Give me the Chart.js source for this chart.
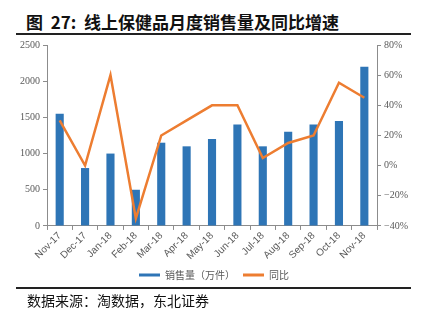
<!DOCTYPE html>
<html>
<head>
<meta charset="utf-8">
<script src="https://cdn.jsdelivr.net/npm/chart.js@4.4.1/dist/chart.umd.min.js"></script>
<style>
  html, body { margin: 0; padding: 0; background: #fff; }
  body { width: 423px; height: 323px; position: relative; overflow: hidden; }
  #title {
    position: absolute; left: 26px; top: 9px;
    font-family: "Noto Sans CJK SC", sans-serif; font-weight: bold;
    font-size: 17px; color: #111; white-space: nowrap;
  }
  .rule { position: absolute; left: 16px; width: 395px; height: 2px; background: #222; }
  #source {
    position: absolute; left: 27px; top: 290px;
    font-family: "Noto Sans CJK SC", sans-serif; font-size: 14px; color: #111;
  }
  #wrap { position: absolute; left: 0; top: 36px; width: 423px; height: 254px; }
</style>
</head>
<body>
<div id="title">图&nbsp; 27:&nbsp; 线上保健品月度销售量及同比增速</div>
<div class="rule" style="top:33px"></div>
<div id="wrap"><canvas id="c"></canvas></div>
<div class="rule" style="top:287px"></div>
<div id="source">数据来源：淘数据，东北证券</div>
<script>
// Monthly online sales of health supplements (10k units) and YoY growth (%)
const months = ["Nov-17", "Dec-17", "Jan-18", "Feb-18", "Mar-18", "Apr-18", "May-18",
                "Jun-18", "Jul-18", "Aug-18", "Sep-18", "Oct-18", "Nov-18"];
const salesVolume = [1550, 800, 1000, 500, 1150, 1100, 1200, 1400, 1100, 1300, 1400, 1450, 2200];
const yoyGrowth = [30, 0, 60, -35, 20, 30, 40, 40, 5, 15, 20, 55, 45];
const seriesNames = ["销售量（万件）", "同比"];

const BLUE = "#2E75B6";
const ORANGE = "#ED7D31";
const AXIS = "#8c8c8c";
const TICK_TXT = "#595959";

new Chart(document.getElementById("c"), {
  type: "bar",
  data: {
    labels: months,
    datasets: [
      {
        type: "line",
        label: seriesNames[1],
        data: yoyGrowth,
        yAxisID: "y1",
        borderColor: ORANGE,
        backgroundColor: ORANGE,
        borderWidth: 2.5,
        pointRadius: 0,
        tension: 0,
        order: 0
      },
      {
        type: "bar",
        label: seriesNames[0],
        data: salesVolume,
        yAxisID: "y",
        backgroundColor: BLUE,
        categoryPercentage: 0.8,
        barPercentage: 0.4,
        order: 1
      }
    ]
  },
  options: {
    responsive: true,
    maintainAspectRatio: false,
    animation: false,
    layout: { padding: { left: 17, right: 12, top: 8, bottom: 0 } },
    plugins: {
      tooltip: { enabled: false },
      legend: {
        position: "bottom",
        labels: {
          font: { family: "'Noto Sans CJK SC', sans-serif", size: 10 },
          color: TICK_TXT,
          boxWidth: 21,
          boxHeight: 3,
          padding: 8,
          generateLabels(chart) {
            return [1, 0].map(i => {
              const ds = chart.data.datasets[i];
              return {
                text: ds.label,
                fillStyle: ds.type === "line" ? ds.borderColor : ds.backgroundColor,
                strokeStyle: ds.type === "line" ? ds.borderColor : ds.backgroundColor,
                lineWidth: 0,
                datasetIndex: i,
                fontColor: TICK_TXT
              };
            });
          }
        }
      }
    },
    scales: {
      x: {
        offset: true,
        grid: { display: true, drawOnChartArea: false, drawTicks: true, tickLength: 4, color: AXIS, offset: true },
        border: { color: AXIS, width: 1 },
        ticks: {
          color: TICK_TXT,
          font: { family: "'Liberation Sans', sans-serif", size: 10 },
          maxRotation: 45, minRotation: 45, autoSkip: false, padding: 0
        }
      },
      y: {
        position: "left",
        min: 0, max: 2500,
        grid: { display: true, drawOnChartArea: false, drawTicks: true, tickLength: 4, color: AXIS },
        border: { color: AXIS, width: 1 },
        ticks: {
          stepSize: 500,
          color: TICK_TXT,
          font: { family: "'Liberation Serif', serif", size: 10 },
          padding: 3,
          callback: v => String(v)
        }
      },
      y1: {
        position: "right",
        min: -40, max: 80,
        grid: { display: true, drawOnChartArea: false, drawTicks: true, tickLength: 4, color: AXIS },
        border: { color: AXIS, width: 1 },
        ticks: {
          stepSize: 20,
          color: TICK_TXT,
          font: { family: "'Liberation Serif', serif", size: 10 },
          padding: 3,
          callback: v => (v < 0 ? "\u2212" + Math.abs(v) : v) + "%"
        }
      }
    }
  }
});
</script>
</body>
</html>
